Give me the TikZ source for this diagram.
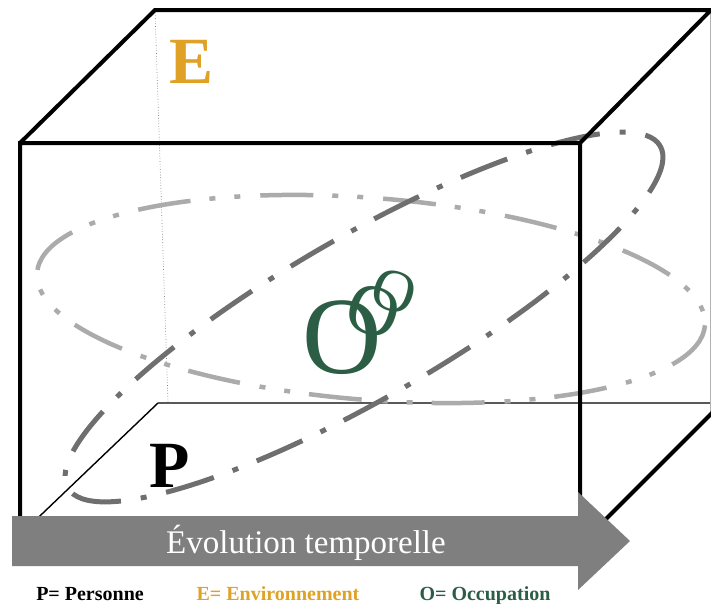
\documentclass[tikz,border=0pt]{standalone}
\usepackage{fontspec}
\setmainfont{Liberation Serif}
\definecolor{egold}{HTML}{E0A226}
\definecolor{ogreen}{HTML}{2B5E45}
\definecolor{lightring}{HTML}{ABABAB}
\definecolor{darkring}{HTML}{6F6F6F}
\definecolor{arrowgray}{HTML}{7F7F7F}
\begin{document}
\begin{tikzpicture}[
            x=1pt, y=-1pt,
            box edge/.style={line width=4pt, line join=miter},
            back edge/.style={line width=1.4pt},
            hidden edge/.style={draw=gray, line width=0.7pt, dotted},
            light ring/.style={
                draw=lightring,
                line width=4.5pt,
                dash pattern=on 53pt off 19pt on 6pt off 19pt on 6pt off 20pt
            },
            dark ring/.style={
                draw=darkring,
                line width=5pt,
                dash pattern=on 50pt off 20pt on 6pt off 20pt
            },
            letter/.style={font=\fontsize{66}{66}\selectfont\bfseries, inner sep=0pt},
            ring letter/.style={text=ogreen, inner sep=0pt},
            legend/.style={font=\fontsize{20}{20}\selectfont\bfseries, anchor=base, inner sep=0pt}
        ]

            \useasboundingbox (0,0) rectangle (711,603);

            % corners of the box
            \coordinate (ftl) at (20,143);
            \coordinate (ftr) at (580,143);
            \coordinate (fbr) at (580,545);
            \coordinate (fbl) at (20,535);
            \coordinate (btl) at (155,10);
            \coordinate (btr) at (711,10);
            \coordinate (bbl) at (158,403);
            \coordinate (bbr) at (722,403);
            \coordinate (hid) at (168,403);

            % back of the box
            \draw[hidden edge] (btl) -- (hid);
            \draw[back edge] (fbl) -- (bbl) -- (bbr);
            \draw[draw=gray!60, line width=1pt] (710,10) -- (710,414);

            % the two rings
            \draw[light ring, rotate around={-4.5:(371,299)}]
                (371,299) ellipse [x radius=335, y radius=101];
            \draw[dark ring, rotate around={30:(364,317)}]
                (364,317) ellipse [x radius=342, y radius=81];

            % front of the box
            \draw[box edge] (ftl) -- (btl) -- (btr) -- (ftr);
            \draw[box edge] (ftl) -- (ftr) -- (fbr) -- (fbl) -- cycle;
            \draw[box edge] (fbr) -- (bbr);

            \node[letter, text=egold] (E) at (192,62) {E};
            \node[letter] (P) at (170,466) {P};

            \node[ring letter, font=\fontsize{110}{110}\selectfont] (O1) at (342,338) {O};
            \node[ring letter, font=\fontsize{72}{72}\selectfont, rotate=-18] (O2) at (373,311) {O};
            \node[ring letter, font=\fontsize{60}{60}\selectfont, rotate=-18] (O3) at (394,292) {O};

            % time arrow
            \fill[arrowgray] (12,516) -- (578,516) -- (578,492) -- (630,541)
                -- (578,590) -- (578,566) -- (12,566) -- cycle;
            \node[text=white, font=\fontsize{33}{33}\selectfont, inner sep=0pt]
                (time) at (306,543) {Évolution temporelle};

            \node[legend] (lp) at (90,600) {P= Personne};
            \node[legend, text=egold] (le) at (278,600) {E= Environnement};
            \node[legend, text=ogreen] (lo) at (485,600) {O= Occupation};

        \end{tikzpicture}
\end{document}
